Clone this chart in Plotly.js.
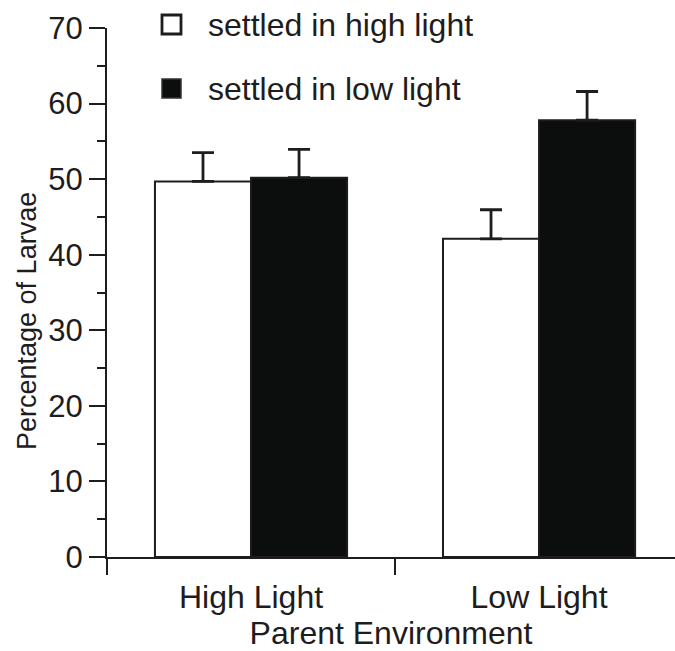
<!DOCTYPE html>
<html>
<head>
<meta charset="utf-8">
<script src="https://cdn.plot.ly/plotly-3.0.1.min.js"></script>
<style>html,body{margin:0;padding:0;background:#fff}#chart{width:675px;height:651px}</style>
</head>
<body>
<div id="chart"></div>
<script>
// Data
const categories = ["High Light", "Low Light"];
const seriesNames = ["settled in high light", "settled in low light"];
const highLightValues = [49.7, 42.1];
const highLightErrors = [3.8, 3.85];
const lowLightValues = [50.2, 57.8];
const lowLightErrors = [3.75, 3.8];
const yTickVals = [0, 10, 20, 30, 40, 50, 60, 70];
const yTickText = ["0", "10", "20", "30", "40", "50", "60", "70"];
const xTitle = "Parent Environment";
const yTitle = "Percentage of Larvae";

const ink = "#1e1c1d";
const blackFill = "#0c0e0d";
const font = "Liberation Sans, Arial, Helvetica, sans-serif";

const traces = [
  {
    type: "bar", name: seriesNames[0], x: categories, y: highLightValues,
    marker: {color: "#ffffff", line: {color: ink, width: 2}},
    error_y: {type: "data", array: highLightErrors, symmetric: false, arrayminus: [0, 0],
              color: ink, thickness: 2.8, width: 11},
    showlegend: false, hoverinfo: "skip"
  },
  {
    type: "bar", name: seriesNames[1], x: categories, y: lowLightValues,
    marker: {color: blackFill, line: {color: ink, width: 2}},
    error_y: {type: "data", array: lowLightErrors, symmetric: false, arrayminus: [0, 0],
              color: ink, thickness: 2.8, width: 11},
    showlegend: false, hoverinfo: "skip"
  }
];

const layout = {
  width: 675, height: 651,
  margin: {l: 107, r: 0, t: 28, b: 94, pad: 0},
  paper_bgcolor: "#ffffff", plot_bgcolor: "#ffffff",
  font: {family: font, color: ink},
  barmode: "group", bargap: 0.333, bargroupgap: 0,
  showlegend: false,
  xaxis: {
    type: "category", range: [-0.5, 1.472],
    showline: true, linecolor: ink, linewidth: 2,
    ticks: "outside", tickson: "boundaries", ticklen: 16, tickwidth: 2, tickcolor: ink,
    tickfont: {size: 32, family: font, color: ink}, ticklabelstandoff: 11,
    showgrid: false, zeroline: false,
    title: {text: xTitle, font: {size: 32, family: font, color: ink}, standoff: 0}
  },
  yaxis: {
    range: [0, 70], tickvals: yTickVals, ticktext: yTickText,
    showline: true, linecolor: ink, linewidth: 2,
    ticks: "outside", ticklen: 16, tickwidth: 2, tickcolor: ink,
    minor: {dtick: 5, ticks: "outside", ticklen: 8, tickwidth: 2, tickcolor: ink, showgrid: false},
    tickfont: {size: 31, family: font, color: ink},
    showgrid: false, zeroline: false
  },
  shapes: [
    {type: "rect", xref: "paper", yref: "paper", xsizemode: "pixel", ysizemode: "pixel",
     xanchor: 0, yanchor: 1, x0: 55, x1: 74, y0: 13, y1: -6,
     fillcolor: "#ffffff", line: {color: ink, width: 2.8}},
    {type: "rect", xref: "paper", yref: "paper", xsizemode: "pixel", ysizemode: "pixel",
     xanchor: 0, yanchor: 1, x0: 55, x1: 74, y0: -51, y1: -70,
     fillcolor: blackFill, line: {color: "#333", width: 1.5}}
  ],
  annotations: [
    {xref: "paper", yref: "paper", x: (206 - 107) / 568, y: 1 - (25 - 28) / 529,
     xanchor: "left", yanchor: "middle", showarrow: false, text: seriesNames[0],
     font: {size: 32, family: font, color: ink}},
    {xref: "paper", yref: "paper", x: (206 - 107) / 568, y: 1 - (89 - 28) / 529,
     xanchor: "left", yanchor: "middle", showarrow: false, text: seriesNames[1],
     font: {size: 32, family: font, color: ink}},
    {xref: "paper", yref: "paper", x: (27 - 107) / 568, y: (557 - 321) / 529,
     xanchor: "center", yanchor: "middle", showarrow: false, textangle: -90, text: yTitle,
     font: {size: 27, family: font, color: ink}}
  ]
};

Plotly.newPlot("chart", traces, layout, {displayModeBar: false, staticPlot: true});
</script>
</body>
</html>
